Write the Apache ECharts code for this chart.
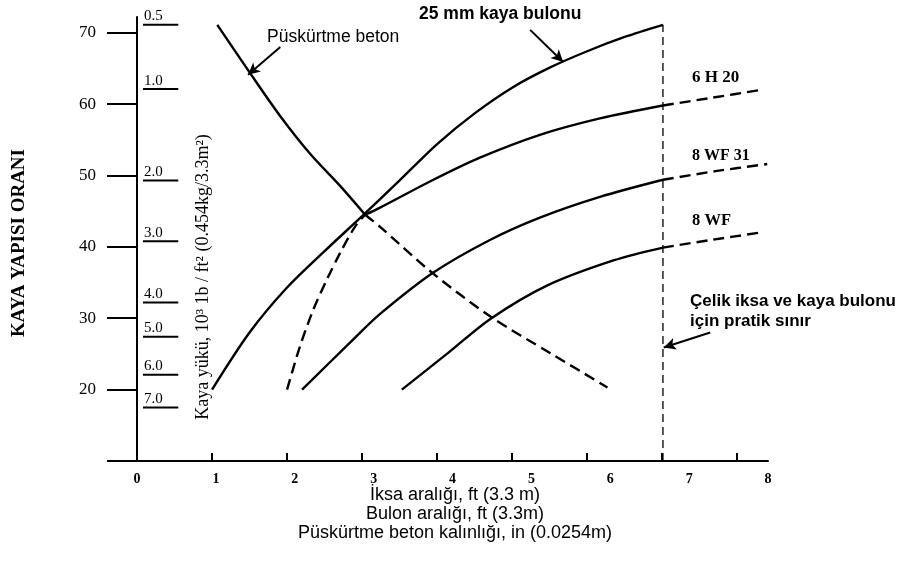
<!DOCTYPE html>
<html lang="tr">
<head>
<meta charset="UTF-8">
<title>Kaya yapısı oranı - destek</title>
<script src="https://cdn.jsdelivr.net/npm/echarts@6/dist/echarts.min.js"></script>
<style>
  html, body { margin: 0; background: #fff; }
  #chart { width: 905px; height: 571px; }
</style>
</head>
<body>
<div id="chart"></div>
<script>
// axis ticks / labels
var xTicks = [0, 1, 2, 3, 4, 5, 6, 7, 8];
var yTicks = [10, 20, 30, 40, 50, 60, 70];
var yLabels = [20, 30, 40, 50, 60, 70];

// shotcrete thickness scale (in) placed against RSR
var thickLabels = ['0.5', '1.0', '2.0', '3.0', '4.0', '5.0', '6.0', '7.0'];
var thickRsr = [71.1, 62.1, 49.3, 40.8, 32.2, 27.4, 22.1, 17.5];

// 25 mm rock bolts
var boltX = [1, 1.5, 2, 2.5, 3, 3.5, 4, 4.5, 5, 5.5, 6, 6.5, 7.01];
var boltY = [20, 28, 34.3, 39.4, 44.3, 49.3, 54.4, 58.7, 62.3, 65.1, 67.4, 69.4, 71.1];

// shotcrete (solid, then dashed)
var shotX = [1.07, 1.51, 1.91, 2.31, 2.71, 3.04];
var shotY = [71.1, 64.3, 58.3, 53.0, 48.5, 44.5];
var shotDashX = [3.04, 3.24, 3.93, 4.73, 5.51, 6.27];
var shotDashY = [44.5, 42.8, 36.4, 30.1, 25.1, 20.3];

// 6 H 20
var h20LowX = [2.0, 2.17, 2.35, 2.53, 2.71, 2.91, 3.04];
var h20LowY = [20.0, 26.0, 31.2, 35.4, 39.2, 42.9, 44.5];
var h20X = [3.04, 3.24, 3.95, 4.57, 5.37, 6.17, 7.01];
var h20Y = [44.5, 45.5, 49.4, 52.5, 55.7, 58.0, 59.8];
var h20ExtX = [7.01, 7.67, 8.33];
var h20ExtY = [59.8, 60.9, 62.0];

// 8 WF 31
var wf31X = [2.2, 2.88, 3.24, 3.95, 4.71, 5.37, 6.17, 7.01];
var wf31Y = [20.0, 27.0, 30.6, 36.4, 41.0, 44.1, 47.0, 49.4];
var wf31ExtX = [7.01, 7.71, 8.40];
var wf31ExtY = [49.4, 50.6, 51.6];

// 8 WF
var wfX = [3.53, 4.13, 4.71, 5.47, 6.35, 7.01];
var wfY = [20.0, 25.0, 29.9, 34.6, 38.1, 39.9];
var wfExtX = [7.01, 7.67, 8.31];
var wfExtY = [39.9, 41.0, 42.0];

// practical limit for steel ribs and rock bolts
var limitX = [7.01, 7.01];
var limitY = [10, 71.1];

// annotation arrows [fromX, fromY, toX, toY]
var arrows = [
  [1.91, 68.0, 1.48, 64.1],
  [5.24, 70.4, 5.68, 65.9],
  [7.64, 28.0, 7.02, 25.9]
];

function zip(xs, ys) {
  return xs.map(function (x, i) { return [x, ys[i]]; });
}

var serif = '"Liberation Serif", "DejaVu Serif", serif';
var sans = '"Liberation Sans", Arial, sans-serif';

function curve(xs, ys, dashed) {
  return {
    type: 'line',
    xAxisIndex: 0,
    data: zip(xs, ys),
    smooth: 0.3,
    showSymbol: false,
    silent: true,
    lineStyle: { color: '#000', width: 2.4, type: dashed ? [11, 6] : 'solid' }
  };
}

var chart = echarts.init(document.getElementById('chart'));

var option = {
  animation: false,
  backgroundColor: '#fff',
  grid: { left: 137, right: 137, top: 17, bottom: 110 },
  xAxis: [{
    type: 'value',
    min: 0,
    max: 8.41,
    position: 'bottom',
    axisLine: { lineStyle: { color: '#000', width: 2 } },
    axisTick: { inside: true, length: 8, customValues: xTicks, lineStyle: { color: '#000', width: 2 } },
    axisLabel: { show: false },
    splitLine: { show: false }
  }, {
    type: 'value',
    min: 0,
    max: 8,
    position: 'bottom',
    axisLine: { show: false },
    axisTick: { show: false },
    splitLine: { show: false },
    axisLabel: {
      customValues: xTicks,
      margin: 11,
      color: '#000',
      fontFamily: serif,
      fontWeight: 'bold',
      fontSize: 14
    }
  }],
  yAxis: {
    type: 'value',
    min: 10,
    max: 72.2,
    axisLine: { lineStyle: { color: '#000', width: 2 } },
    axisTick: { length: 30, customValues: yTicks, lineStyle: { color: '#000', width: 2 } },
    axisLabel: {
      customValues: yLabels,
      margin: 41,
      color: '#000',
      fontFamily: serif,
      fontSize: 17
    },
    splitLine: { show: false }
  },
  series: [
    curve(boltX, boltY, false),
    curve(shotX, shotY, false),
    curve(shotDashX, shotDashY, true),
    curve(h20LowX, h20LowY, true),
    curve(h20X, h20Y, false),
    curve(h20ExtX, h20ExtY, true),
    curve(wf31X, wf31Y, false),
    curve(wf31ExtX, wf31ExtY, true),
    curve(wfX, wfY, false),
    curve(wfExtX, wfExtY, true),
    {
      type: 'line',
      data: zip(limitX, limitY),
      showSymbol: false,
      silent: true,
      lineStyle: { color: '#000', width: 1.3, type: [8, 5] }
    },
    {
      type: 'line',
      data: [],
      silent: true,
      markLine: {
        silent: true,
        symbol: ['none', 'arrow'],
        symbolSize: [9, 12],
        label: { show: false },
        lineStyle: { color: '#000', width: 2, type: 'solid' },
        data: arrows.map(function (a) {
          return [{ coord: [a[0], a[1]] }, { coord: [a[2], a[3]] }];
        })
      }
    },
    {
      type: 'custom',
      silent: true,
      data: thickRsr.map(function (v) { return [0, v]; }),
      renderItem: function (params, api) {
        var y = api.value(1);
        var a = api.coord([0.08, y]);
        var b = api.coord([0.55, y]);
        return {
          type: 'group',
          children: [{
            type: 'line',
            shape: { x1: a[0], y1: a[1], x2: b[0], y2: b[1] },
            style: { stroke: '#000', lineWidth: 2 }
          }, {
            type: 'text',
            x: a[0] + 1,
            y: a[1] - 1,
            style: {
              text: thickLabels[params.dataIndex],
              fill: '#000',
              fontFamily: serif,
              fontSize: 15,
              align: 'left',
              verticalAlign: 'bottom'
            }
          }]
        };
      }
    }
  ],
  graphic: [
    { type: 'text', left: 267, top: 28, style: { text: 'Püskürtme beton', fontFamily: sans, fontSize: 17.5, fill: '#000' } },
    { type: 'text', left: 419, top: 5, style: { text: '25 mm kaya bulonu', fontFamily: sans, fontSize: 17.5, fontWeight: 'bold', fill: '#000' } },
    { type: 'text', left: 692, top: 69, style: { text: '6 H 20', fontFamily: serif, fontSize: 17, fontWeight: 'bold', fill: '#000' } },
    { type: 'text', left: 692, top: 148, style: { text: '8 WF 31', fontFamily: serif, fontSize: 16, fontWeight: 'bold', fill: '#000' } },
    { type: 'text', left: 692, top: 212, style: { text: '8 WF', fontFamily: serif, fontSize: 16.5, fontWeight: 'bold', fill: '#000' } },
    { type: 'text', left: 690, top: 291, style: { text: 'Çelik iksa ve kaya bulonu\niçin pratik sınır', fontFamily: sans, fontSize: 17, fontWeight: 'bold', lineHeight: 20, fill: '#000' } },
    {
      type: 'text', x: 455, y: 514,
      style: {
        text: 'İksa aralığı, ft (3.3 m)\nBulon aralığı, ft (3.3m)\nPüskürtme beton kalınlığı, in (0.0254m)',
        fontFamily: sans, fontSize: 18, lineHeight: 19, fill: '#000',
        align: 'center', verticalAlign: 'middle'
      }
    },
    {
      type: 'text', x: 203, y: 277, rotation: Math.PI / 2,
      style: {
        text: 'Kaya yükü, 10³ 1b / ft² (0.454kg/3.3m²)',
        fontFamily: serif, fontSize: 18, fill: '#000',
        align: 'center', verticalAlign: 'middle'
      }
    },
    {
      type: 'text', x: 19, y: 243, rotation: Math.PI / 2,
      style: {
        text: 'KAYA YAPISI ORANI',
        fontFamily: serif, fontSize: 19, fontWeight: 'bold', fill: '#000',
        align: 'center', verticalAlign: 'middle'
      }
    }
  ]
};

chart.setOption(option);
</script>
</body>
</html>
